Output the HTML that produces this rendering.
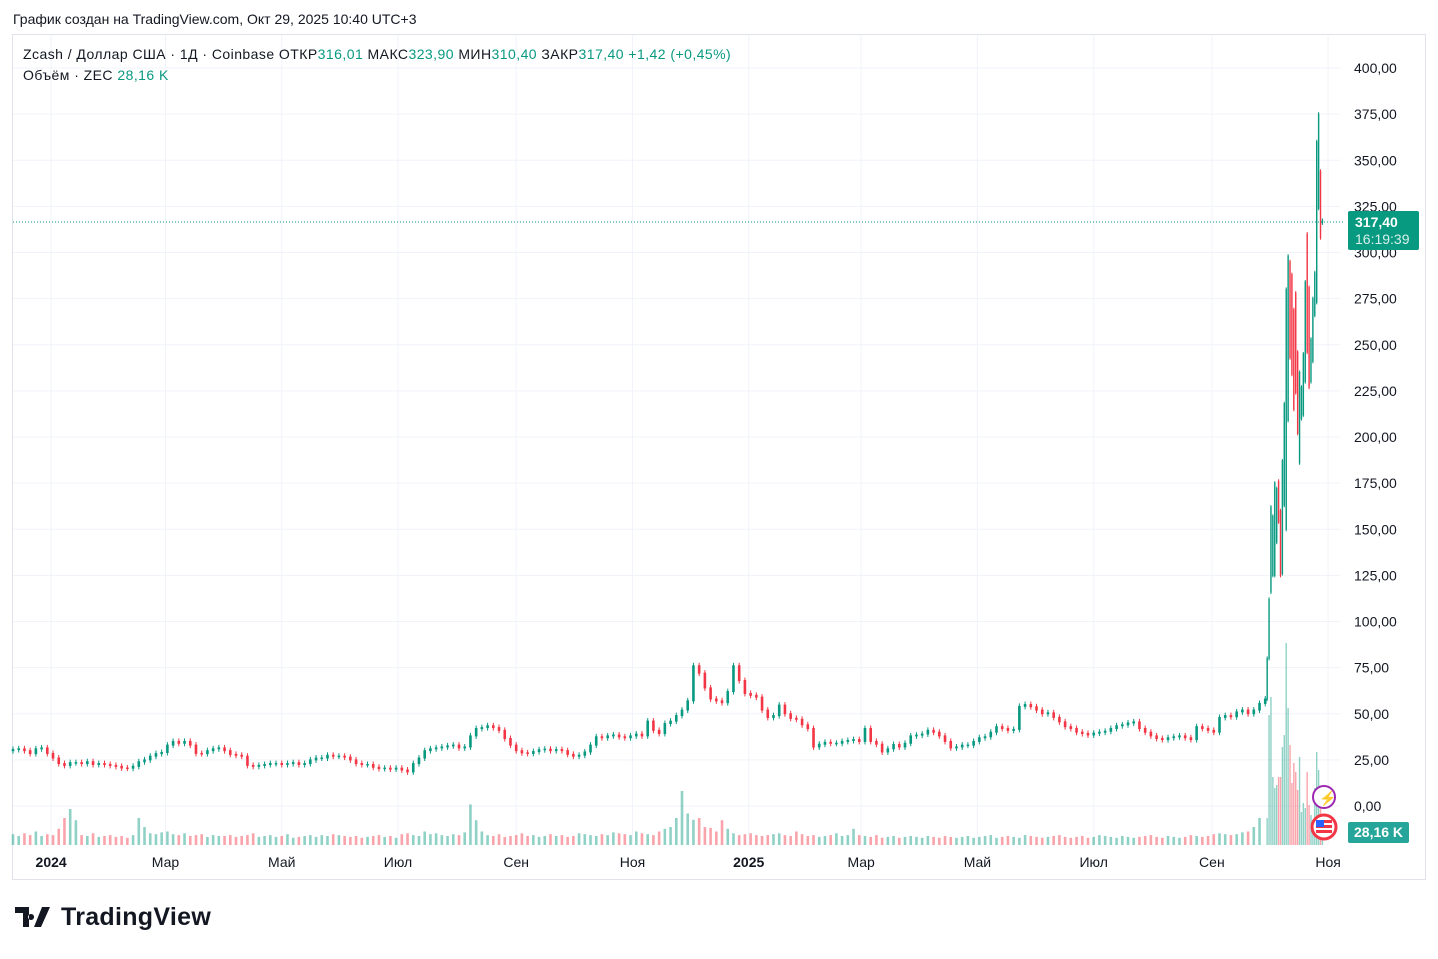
<!DOCTYPE html>
<html><head><meta charset="utf-8"><style>
body{margin:0;background:#fff;width:1438px;height:954px;overflow:hidden;font-family:"Liberation Sans",sans-serif;color:#131722}
svg text{font-family:"Liberation Sans",sans-serif}
</style></head><body>
<svg id="c" width="1438" height="954">
<text x="13" y="24" font-size="14" fill="#131722">График создан на TradingView.com, Окт 29, 2025 10:40 UTC+3</text>
<rect x="12.5" y="34.5" width="1413" height="845" fill="#fff" stroke="#e0e3eb"/>
<g id="grid"></g><g id="vol"></g><g id="candles"></g><g id="axis"></g>
<line x1="13" x2="1345" y1="222" y2="222" stroke="#089981" stroke-dasharray="1,2"/>
<text x="23" y="59" font-size="14" letter-spacing="0.45"><tspan fill="#131722">Zcash / Доллар США · 1Д · Coinbase  ОТКР</tspan><tspan fill="#089981">316,01</tspan><tspan fill="#131722">  МАКС</tspan><tspan fill="#089981">323,90</tspan><tspan fill="#131722">  МИН</tspan><tspan fill="#089981">310,40</tspan><tspan fill="#131722">  ЗАКР</tspan><tspan fill="#089981">317,40  +1,42 (+0,45%)</tspan></text>
<text x="23" y="80" font-size="14" letter-spacing="0.45"><tspan fill="#131722">Объём · ZEC  </tspan><tspan fill="#089981">28,16 K</tspan></text>
<rect x="1348" y="211" width="71" height="39" rx="2" fill="#089981"/>
<text x="1355" y="227" font-size="14" fill="#fff" font-weight="bold">317,40</text>
<text x="1355" y="244" font-size="14" fill="#d8f0ea">16:19:39</text>
<rect x="1348" y="822" width="61" height="21" rx="2" fill="#26a69a"/>
<text x="1354" y="837" font-size="14" fill="#fff" font-weight="bold">28,16 K</text>
<g><circle cx="1324" cy="797" r="11" fill="#fff" stroke="#9c27b0" stroke-width="2"/><text x="1319" y="803" font-size="14" fill="#9c27b0">⚡</text></g>
<g><circle cx="1324" cy="827" r="12" fill="#fff" stroke="#f23645" stroke-width="3"/><rect x="1316" y="820" width="16" height="13" fill="#f23645"/><rect x="1316" y="823" width="16" height="2" fill="#fff"/><rect x="1316" y="828" width="16" height="2" fill="#fff"/><rect x="1316" y="820" width="8" height="7" fill="#2962ff"/></g>
<g><path d="M15 907h14v20h-6v-14h-8z M31 914a3 3 0 1 0 0.1 0z M42 907h8l-9 20h-7z" fill="#131722"/><text x="61" y="925" font-size="25" font-weight="bold" fill="#131722" letter-spacing="0.3">TradingView</text></g>
</svg>
<script>
const priceTicks=[0,25,50,75,100,125,150,175,200,225,250,275,300,325,350,375,400];
const timeLabels=["2024","Мар","Май","Июл","Сен","Ноя","2025","Мар","Май","Июл","Сен","Ноя"];
const timeDays=[20,80,141,202,264,325,386,445,506,567,629,690];
const closes3=[30.6,31,30,28.4,31,31.5,28.5,26,23,22,23.5,23.5,23,24,22.5,23,22.5,22,21.5,20.6,20.5,21.5,24,25,27,28.4,29,33,35,34,35,33,28.5,28.4,30,31,31.5,30,28,27.5,27,22,21.5,22,22.5,23,23,22.5,23,23.5,22.5,23,25,26,26,27.5,27,27,26.5,25,23,22.5,22.5,21,20.3,20.5,20,20.5,19.5,18.5,23,26,30,31,31.5,32,32.6,33,31.5,32,38,42,42.5,43.5,42.5,41,36.6,33,30,28.8,28.5,29.5,30.5,30.8,30,30.6,30,28,27,27.5,29.3,33,37.5,37,38,38.5,37.5,37,38,39,38,46,41,39.3,44.7,46,49,52,57,76,72,64,58,57,56,62,76,68,61,60,59,52,48,49,54.7,50,47.5,47,44,42,32,33.5,34.5,34,34,35,35.5,36,35,42,35,33.5,29.3,31,33.3,32,34,38,38.4,39,41,40,38,35,31.5,32,33,33,35,37,37.5,40,43,42,41,41.5,54,55,53.8,52,50,50.5,48,45.6,43,42,40,39.3,38.5,39.5,40,40.5,42,43.5,44,45,45.6,42,40,38,36.6,36,37,37.5,38,37,36,43,42,41,40,48,49,48.4,51,52,50,52,55.6,58];
const vol3=[24,20,26,22,30,20,24,22,36,60,80,55,22,20,26,18,20,22,18,20,16,22,60,40,26,24,28,30,24,22,26,20,22,24,18,22,20,20,22,18,20,22,26,18,20,22,18,20,24,16,18,20,22,18,22,20,24,22,20,18,20,16,18,20,22,18,20,16,24,26,22,20,30,24,26,22,20,24,22,28,90,55,30,22,20,24,18,20,22,26,20,22,18,20,24,20,22,18,20,26,24,22,20,24,22,28,26,24,22,30,26,24,22,30,36,40,60,120,70,56,60,40,38,30,55,36,26,22,24,26,22,20,22,24,26,22,20,30,24,20,22,18,20,22,26,20,22,36,22,20,18,22,16,18,20,16,18,20,18,16,20,18,16,20,18,16,18,20,16,18,20,22,16,18,20,18,16,22,20,18,16,18,20,22,18,16,18,20,16,18,22,20,18,16,20,18,16,18,20,22,18,16,20,18,16,18,22,20,18,20,24,26,24,22,24,28,30,40,60];
const dO=[58,80,116,125,125,143,176,160,126,163,150,209,295,288,269,278,246,186,210,212,230,310,281,230,241,266,273,324,344,316];
const dC=[80,112,162,157,175,172,154,125,187,218,280,298,243,234,215,224,202,235,227,245,284,246,227,253,275,289,360,375,308,317.4];
const dV=[54,260,296,136,114,120,136,136,196,220,404,274,200,124,164,146,110,176,66,84,74,146,80,60,50,114,186,150,100,28];

const NS="http://www.w3.org/2000/svg";
const X0=13,PXD=1.906;
const xDay=d=>X0+d*PXD;
const yP=p=>806-p*1.845;
const yV=v=>845-v*0.45;
function mk(tag,attrs,parent){const e=document.createElementNS(NS,tag);for(const k in attrs)e.setAttribute(k,attrs[k]);parent.appendChild(e);return e;}
const grid=document.getElementById('grid'),axis=document.getElementById('axis'),cg=document.getElementById('candles'),vg=document.getElementById('vol');
priceTicks.forEach(p=>{
 const l=mk('line',{x1:13,x2:1340,y1:yP(p),y2:yP(p),stroke:'#f0f3fa'},grid);
 
 
 const t=mk('text',{x:1354,y:yP(p)+5,'font-size':14,fill:'#131722'},axis);
 t.textContent=p.toFixed(2).replace('.',',');
 
 
});
timeLabels.forEach((s,i)=>{
 const x=xDay(timeDays[i]);
 const l=mk('line',{x1:x,x2:x,y1:35,y2:845,stroke:'#f0f3fa'},grid);
 
 
 const t=mk('text',{x:x,y:867,'font-size':14,fill:'#131722','text-anchor':'middle','font-weight':(s.length===4?'bold':'normal')},axis);
 t.textContent=s;
 
 
});
function candle(d,o,c,w,v,wk){
 const up=c>=o,col=up?'#089981':'#f23645';
 const x=xDay(d);
 const y1=yP(Math.max(o,c)),y2=yP(Math.min(o,c));
 const wl=mk('line',{x1:x,x2:x,y1:y1-wk,y2:y2+wk,stroke:col,'stroke-width':1},cg);
 
 
 const r=mk('rect',{x:x-w/2,y:y1-0.5,width:w,height:Math.max(1.5,y2-y1+1),fill:col},cg);
 
 
 const b=mk('rect',{x:x-w/2,y:yV(v),width:w,height:845-yV(v),fill:up?'rgba(8,153,129,0.45)':'rgba(242,54,69,0.45)'},vg);
 
 
}
closes3.forEach((c,i)=>{candle(i*3,i?closes3[i-1]:c*0.98,c,2.6,vol3[i],3);});
dO.forEach((o,i)=>{candle(658+i,o,dC[i],1.4,dV[i]/0.9,2);});
</script>
</body></html>
